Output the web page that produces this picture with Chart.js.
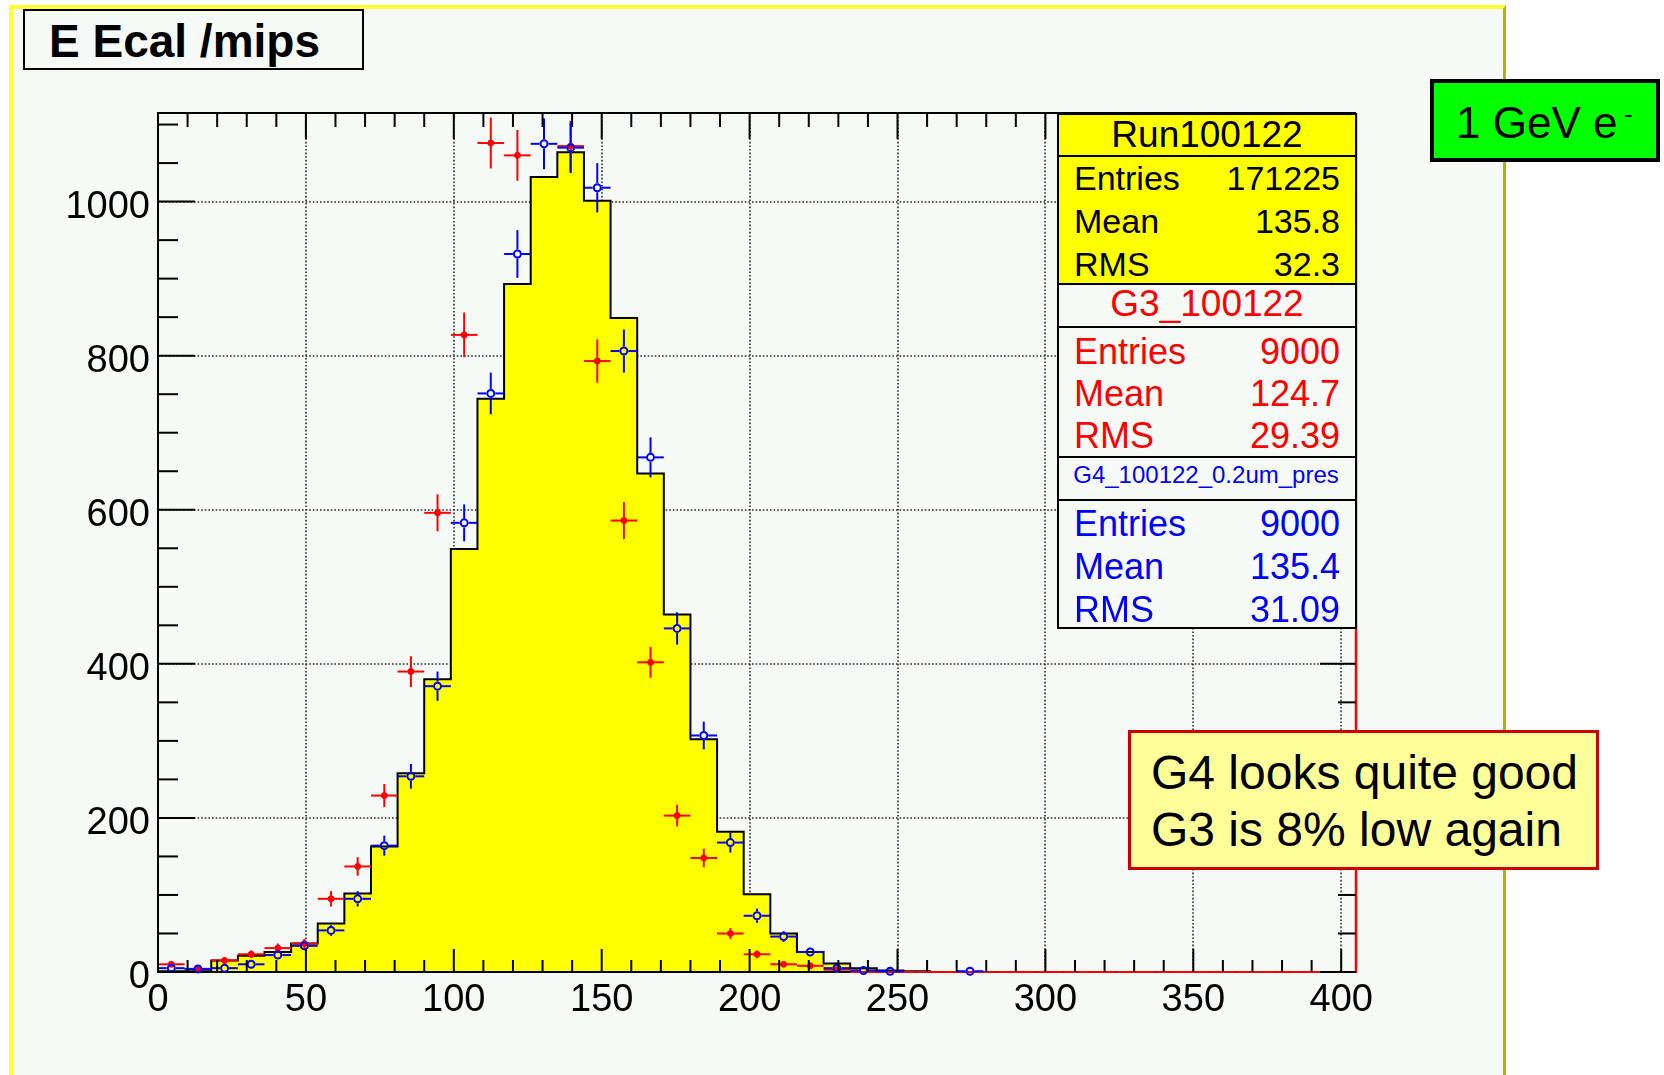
<!DOCTYPE html>
<html>
<head>
<meta charset="utf-8">
<script src="https://cdn.jsdelivr.net/npm/chart.js@4.4.1/dist/chart.umd.min.js"></script>
<style>
html,body{margin:0;padding:0;background:#ffffff;overflow:hidden;}
#wrap{position:relative;width:1664px;height:1075px;overflow:hidden;font-family:"Liberation Sans",Arial,Helvetica,sans-serif;}
#pad{position:absolute;left:9px;top:5px;width:1497px;height:1120px;box-sizing:border-box;background:#F6FAF7;border-top:4px solid #FFFF33;border-left:4px solid #FFFF33;border-right:3px solid #B4B400;}
#c{position:absolute;left:0;top:0;}
.box{position:absolute;box-sizing:border-box;}
.t{position:absolute;white-space:nowrap;line-height:1.2;}
</style>
</head>
<body>
<div id="wrap">
  <div id="pad"></div>
  <canvas id="c" width="1664" height="1075"></canvas>
</div>
<script>
// ---------------- data ----------------
const binWidth = 9;
const binLowEdges = [0,9,18,27,36,45,54,63,72,81,90,99,108,117,126,135,144,153,162,171,180,189,198,207,216,225,234,243,252,261,270,279,288,297,306,315,324,333,342,351,360,369,378,387,396];

// Run100122 (yellow histogram)
const dataRun = [1,1,15,21,26,37,63,102,163,258,380,549,744,893,1032,1064,1001,849,647,464,302,182,101,50,26,11,5,2,1,0,0,0,0,0,0,0,0,0,0,0,0,0,0,0,0];

// G3_100122 (red points) and their errors
const g3Values = [10,4,15,23,31,37,95,137,229,390,596,827,1076,1060,1180,1072,793,586,402,203,148,50,23,10,8,3,0,0,0,0,0,0,0,0,0,0,0,0,0,0,0,0,0,0,0];
const g3Errors = [3,2,4,5,6,6,10,12,15,20,24,29,33,33,34,33,28,24,20,14,12,7,5,3,3,2,0,0,0,0,0,0,0,0,0,0,0,0,0,0,0,0,0,0,0];

// G4_100122_0.2um_pres (blue points) and their errors
const g4Values = [5,4,5,10,22,34,54,95,164,254,371,583,751,932,1075,1070,1018,806,668,446,307,168,73,46,26,5,2,1,null,null,1,null,null,null,null,null,null,null,null,null,null,null,null,null,null];
const g4Errors = [2,2,2,3,5,6,7,10,13,16,19,24,27,31,33,33,32,28,26,21,18,13,9,7,5,2,1,1,null,null,1,null,null,null,null,null,null,null,null,null,null,null,null,null,null];

// axis tick labels
const xTickLabels = [0,50,100,150,200,250,300,350,400];
const yTickLabels = [0,200,400,600,800,1000];
const xMinorStep = 10;
const yMinorStep = 50;
const xMin = 0, xMax = 405, yMin = 0, yMax = 1115;

// ---------------- build chart tables ----------------
const histPts = [{x: binLowEdges[0], y: 0}];
binLowEdges.forEach((e, i) => histPts.push({x: e, y: dataRun[i]}));
histPts.push({x: binLowEdges[binLowEdges.length - 1] + binWidth, y: dataRun[dataRun.length - 1]});
histPts.push({x: binLowEdges[binLowEdges.length - 1] + binWidth, y: 0});

function pointsFrom(vals, errs) {
  const out = [];
  vals.forEach((v, i) => {
    if (v === null) return;
    out.push({x: binLowEdges[i] + binWidth / 2, y: v, e: errs[i] || 0});
  });
  return out;
}

const FONT = '"Liberation Sans", Arial, Helvetica, sans-serif';

function line(ctx, x1, y1, x2, y2) {
  ctx.beginPath(); ctx.moveTo(x1, y1); ctx.lineTo(x2, y2); ctx.stroke();
}

// error bars drawn just before each point dataset
const errorBars = {
  id: 'errorBars',
  beforeDatasetDraw(chart, args) {
    const ds = chart.data.datasets[args.index];
    if (!ds.errColor) return;
    const {ctx, chartArea: a, scales: {x, y}} = chart;
    ctx.save();
    ctx.beginPath();
    ctx.rect(a.left, a.top, a.right - a.left, a.bottom - a.top + 3);
    ctx.clip();
    ctx.strokeStyle = ds.errColor;
    ctx.lineWidth = 2;
    const gap = ds.errGap || 0;
    ds.data.forEach(p => {
      const px = x.getPixelForValue(p.x);
      const py = y.getPixelForValue(p.y);
      const xl = x.getPixelForValue(p.x - binWidth / 2);
      const xr = x.getPixelForValue(p.x + binWidth / 2);
      const yt = y.getPixelForValue(p.y + p.e);
      const yb = y.getPixelForValue(p.y - p.e);
      const g = p.y === 0 ? 0 : gap;
      line(ctx, xl, py, px - g, py);
      line(ctx, px + g, py, xr, py);
      if (py - yt > g) { line(ctx, px, yt, px, py - g); line(ctx, px, py + g, px, yb); }
    });
    ctx.restore();
  }
};

// ROOT-like frame, grid and tick marks
const rootFrame = {
  id: 'rootFrame',
  beforeDatasetsDraw(chart) {
    const {ctx, chartArea: a, scales: {x, y}} = chart;
    ctx.save();
    ctx.strokeStyle = '#2a2a2a';
    ctx.lineWidth = 1.6;
    ctx.setLineDash([1.6, 2]);
    xTickLabels.forEach(v => {
      if (v <= xMin) return;
      const px = Math.round(x.getPixelForValue(v));
      line(ctx, px, a.top, px, a.bottom);
    });
    yTickLabels.forEach(v => {
      if (v <= yMin) return;
      const py = Math.round(y.getPixelForValue(v));
      line(ctx, a.left, py, a.right, py);
    });
    ctx.restore();
  },
  afterDatasetDraw(chart, args) {
    if (args.index !== 0) return;
    const {ctx, chartArea: a} = chart;
    ctx.save();
    ctx.lineWidth = 2;
    ctx.strokeStyle = '#000';
    line(ctx, a.left, a.top, a.right, a.top);
    line(ctx, a.left, a.top - 1, a.left, a.bottom + 1);
    line(ctx, a.left, a.bottom, a.right, a.bottom);
    ctx.strokeStyle = '#FF0000';
    ctx.lineWidth = 2.5;
    line(ctx, a.right, a.top, a.right, a.bottom + 1);
    ctx.restore();
  },
  afterDatasetsDraw(chart) {
    const {ctx, chartArea: a, scales: {x, y}} = chart;
    ctx.save();
    ctx.strokeStyle = '#000';
    ctx.lineWidth = 2;
    const xMaj = new Set(xTickLabels);
    for (let v = xMin; v <= xMax; v += xMinorStep) {
      const px = x.getPixelForValue(v);
      const major = xMaj.has(v);
      line(ctx, px, a.bottom, px, a.bottom - (major ? 23 : 12));
      line(ctx, px, a.top, px, a.top + (major ? 26 : 14));
    }
    const yMaj = new Set(yTickLabels);
    for (let v = yMin; v <= yMax; v += yMinorStep) {
      const py = y.getPixelForValue(v);
      const major = yMaj.has(v);
      line(ctx, a.left, py, a.left + (major ? 37 : 20), py);
      line(ctx, a.right, py, a.right - (major ? 36 : 18), py);
    }
    ctx.restore();
  }
};

new Chart(document.getElementById('c'), {
  type: 'scatter',
  data: {
    datasets: [
      {
        type: 'line',
        label: 'Run100122',
        data: histPts,
        stepped: 'before',
        borderColor: '#000000',
        borderWidth: 2,
        backgroundColor: '#FFFF00',
        fill: 'origin',
        pointRadius: 0,
        order: 3
      },
      {
        type: 'scatter',
        label: 'G3_100122',
        data: pointsFrom(g3Values, g3Errors),
        errColor: '#FF0000',
        errGap: 0,
        pointStyle: 'circle',
        pointRadius: c => (c.raw && c.raw.y === 0 ? 0 : 3),
        pointBackgroundColor: '#FF0000',
        pointBorderColor: '#FF0000',
        pointBorderWidth: 1,
        clip: {left: 0, top: 0, right: 0, bottom: 5},
        order: 2
      },
      {
        type: 'scatter',
        label: 'G4_100122_0.2um_pres',
        data: pointsFrom(g4Values, g4Errors),
        errColor: '#0000FF',
        errGap: 4.5,
        pointStyle: 'circle',
        pointRadius: 3.5,
        pointBackgroundColor: 'rgba(0,0,0,0)',
        pointBorderColor: '#0000FF',
        pointBorderWidth: 2,
        clip: {left: 0, top: 0, right: 0, bottom: 5},
        order: 1
      }
    ]
  },
  options: {
    responsive: false,
    maintainAspectRatio: false,
    devicePixelRatio: 1,
    animation: false,
    events: [],
    layout: {padding: {left: 0, top: 113, right: 308, bottom: 0}},
    plugins: {legend: {display: false}, tooltip: {enabled: false}},
    scales: {
      x: {
        type: 'linear', position: 'bottom', min: xMin, max: xMax,
        grid: {display: false, drawTicks: false},
        border: {display: false},
        afterBuildTicks: s => { s.ticks = xTickLabels.map(v => ({value: v})); },
        afterFit: s => { s.height = 103; },
        ticks: {
          font: {family: FONT, size: 38}, color: '#000', padding: 6,
          maxRotation: 0, autoSkip: false, callback: v => String(v)
        }
      },
      y: {
        type: 'linear', position: 'left', min: yMin, max: yMax,
        grid: {display: false, drawTicks: false},
        border: {display: false},
        afterBuildTicks: s => { s.ticks = yTickLabels.map(v => ({value: v})); },
        afterFit: s => { s.width = 158; },
        ticks: {
          font: {family: FONT, size: 38}, color: '#000', padding: 8, labelOffset: 6,
          autoSkip: false, callback: v => String(v)
        }
      }
    }
  },
  plugins: [errorBars, rootFrame]
});

// ---------------- annotation boxes (HTML text) ----------------
const wrap = document.getElementById('wrap');
function box(l, t, w, h, css) {
  const d = document.createElement('div');
  d.className = 'box';
  Object.assign(d.style, {left: l + 'px', top: t + 'px', width: w + 'px', height: h + 'px'}, css);
  wrap.appendChild(d);
  return d;
}
function txt(s, x, baseline, size, color, align, extra) {
  const d = document.createElement('div');
  d.className = 't';
  d.textContent = s;
  d.style.fontSize = size + 'px';
  d.style.color = color || '#000';
  d.style.top = (baseline - 0.9465 * size) + 'px';
  d.style.left = x + 'px';
  if (align === 'right') d.style.transform = 'translateX(-100%)';
  else if (align === 'center') d.style.transform = 'translateX(-50%)';
  if (extra) Object.assign(d.style, extra);
  wrap.appendChild(d);
  return d;
}

// title box
box(23, 9, 341, 61, {border: '2px solid #000', background: '#F6FAF7'});
txt('E Ecal /mips', 49, 58, 46, '#000', 'left', {fontWeight: 'bold'});

// stats box
box(1057, 113, 300, 516, {border: '2px solid #000', background: '#F6FAF7'});
box(1058, 114, 298, 170, {background: '#FFFF00'});
[156, 284, 327, 457, 500].forEach(yy => box(1057, yy - 1, 300, 2, {background: '#000'}));
box(1057, 113, 300, 516, {border: '2px solid #000'});

const statsLeft = 1074, statsRight = 1340, statsMid = 1207;
txt('Run100122', statsMid, 148, 37, '#000', 'center');
txt('Entries', statsLeft, 190, 34, '#000'); txt('171225', statsRight, 190, 34, '#000', 'right');
txt('Mean', statsLeft, 233.5, 34, '#000');   txt('135.8', statsRight, 233.5, 34, '#000', 'right');
txt('RMS', statsLeft, 276.5, 34, '#000');    txt('32.3', statsRight, 276.5, 34, '#000', 'right');

txt('G3_100122', statsMid, 317.5, 37, '#FF0000', 'center');
txt('Entries', statsLeft, 364.5, 36, '#FF0000'); txt('9000', statsRight, 364.5, 36, '#FF0000', 'right');
txt('Mean', statsLeft, 406.5, 36, '#FF0000');    txt('124.7', statsRight, 406.5, 36, '#FF0000', 'right');
txt('RMS', statsLeft, 448.5, 36, '#FF0000');     txt('29.39', statsRight, 448.5, 36, '#FF0000', 'right');

txt('G4_100122_0.2um_pres', 1206, 484, 24, '#0000FF', 'center');
txt('Entries', statsLeft, 536.5, 36, '#0000FF'); txt('9000', statsRight, 536.5, 36, '#0000FF', 'right');
txt('Mean', statsLeft, 579.5, 36, '#0000FF');    txt('135.4', statsRight, 579.5, 36, '#0000FF', 'right');
txt('RMS', statsLeft, 622.5, 36, '#0000FF');     txt('31.09', statsRight, 622.5, 36, '#0000FF', 'right');

// green label
box(1430, 79, 230, 83, {border: '4px solid #000', background: '#00FF00'});
txt('1 GeV e', 1456, 139, 44, '#000');
txt('-', 1624, 124, 26, '#000');

// note box
box(1128, 730, 471, 140, {border: '3px solid #CC0000', background: '#FFFF99'});
txt('G4 looks quite good', 1151, 789, 48, '#000');
txt('G3 is 8% low again', 1151, 846.5, 48, '#000');
</script>
</body>
</html>
